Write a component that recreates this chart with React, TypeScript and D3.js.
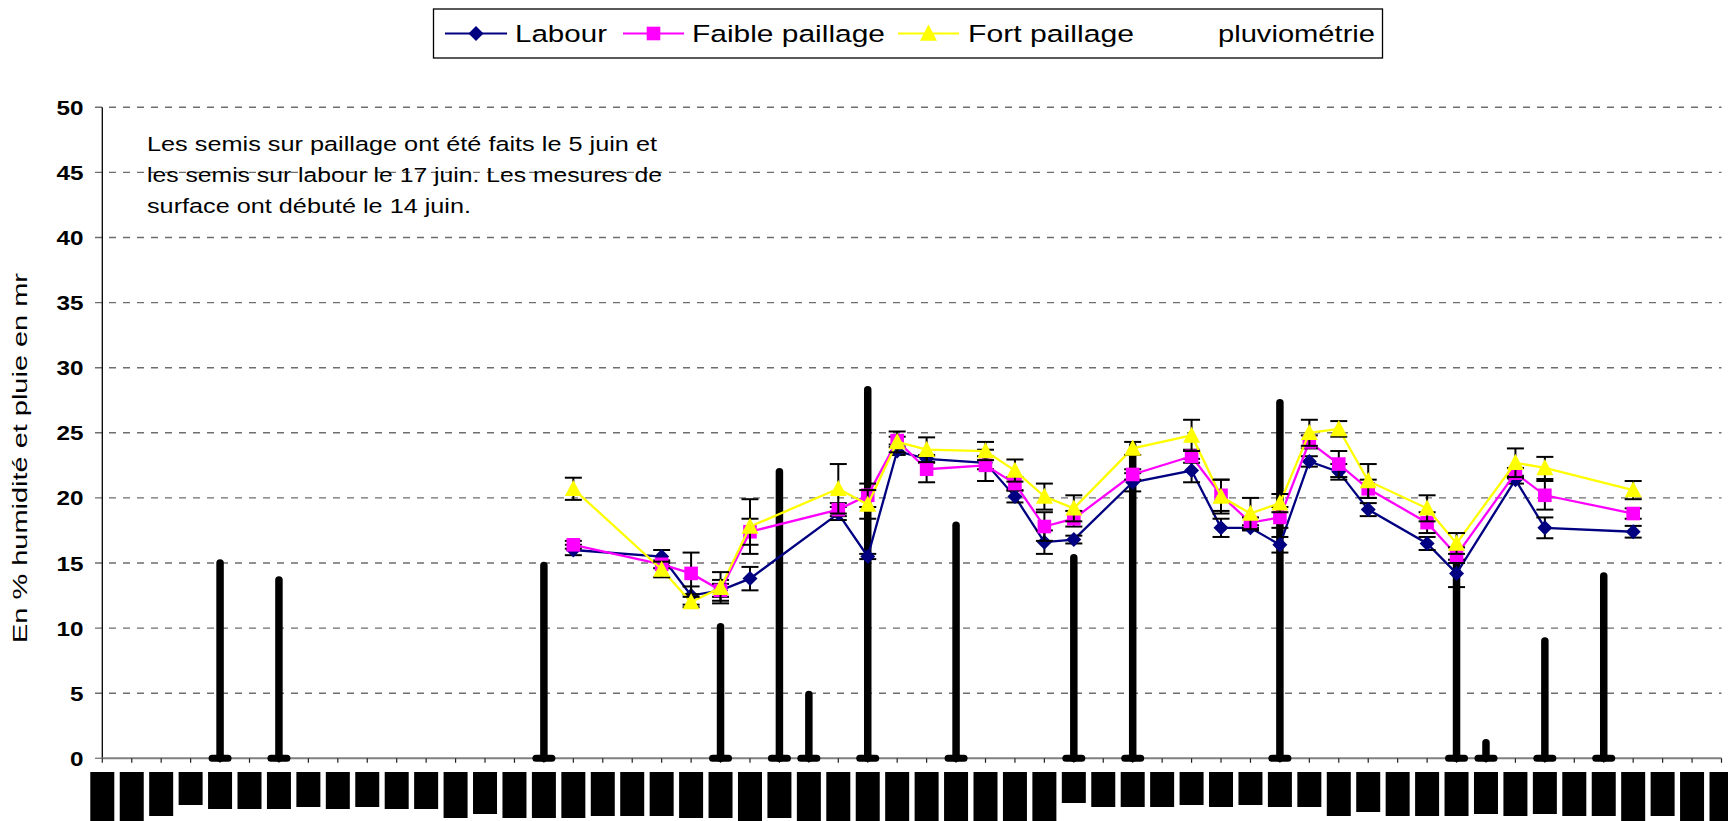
import React from "react";
import * as d3 from "d3";

// ---- data ----
const categoryCount = 56; // daily categories on the x axis (labels rendered as black blocks)
const labelBlockLengths = [
  50, 50, 44, 33, 37, 37, 37, 35, 37, 35, 37, 37, 46, 42, 46, 46, 46, 44, 44, 44,
  46, 46, 50, 46, 50, 50, 50, 50, 50, 50, 50, 50, 50, 31, 35, 35, 35, 33, 35, 33,
  35, 35, 44, 40, 44, 44, 44, 42, 44, 42, 44, 44, 50, 44, 50, 50,
];

const measureDays = [16, 19, 20, 21, 22, 25, 26, 27, 28, 30, 31, 32, 33, 35, 37, 38, 39, 40, 41, 42, 43, 45, 46, 48, 49, 52];
const labour = [16.0, 15.5, 12.5, 12.9, 13.8, 18.8, 15.5, 23.6, 23.0, 22.7, 20.1, 16.6, 16.8, 21.2, 22.1, 17.7, 17.7, 16.4, 22.8, 22.0, 19.1, 16.5, 14.2, 21.4, 17.7, 17.4];
const faible = [16.4, 14.9, 14.2, 12.9, 17.4, 19.1, 20.2, 24.4, 22.2, 22.5, 21.1, 17.8, 18.4, 21.8, 23.2, 20.2, 18.1, 18.5, 24.3, 22.6, 20.7, 18.1, 15.6, 21.9, 20.2, 18.8];
const fort = [20.7, 14.5, 12.0, 13.1, 17.8, 20.7, 19.5, 24.3, 23.7, 23.6, 22.1, 20.1, 19.2, 23.8, 24.8, 20.1, 18.8, 19.6, 25.0, 25.3, 21.3, 19.2, 16.5, 22.7, 22.3, 20.6];
const labourErr = [0.4, 0.5, 0.7, 0.8, 0.9, 0.5, 0.2, 0.3, 0.3, 0.5, 0.45, 0.9, 0.3, 0.7, 0.9, 0.7, 0.2, 0.6, 0.4, 0.6, 0.5, 0.5, 1.05, 0.3, 0.8, 0.45];
const faibleErr = [0.3, 0.3, 1.6, 0.5, 1.0, 0.5, 0.9, 0.3, 1.0, 1.2, 0.5, 1.1, 0.6, 0.4, 0.5, 1.2, 0.4, 0.8, 0.5, 1.0, 0.7, 0.8, 0.6, 0.4, 1.1, 0.4];
const fortErr = [0.85, 0.6, 0.4, 1.2, 2.1, 1.9, 1.1, 0.8, 0.95, 0.7, 0.85, 1.0, 1.0, 0.5, 1.2, 1.3, 1.2, 0.7, 1.0, 0.6, 1.3, 1.0, 0.8, 1.1, 0.85, 0.7];

const rainDays = [4, 6, 15, 21, 23, 24, 26, 29, 33, 35, 40, 46, 47, 49, 51];
const rain = [15.0, 13.7, 14.8, 10.1, 22.0, 4.9, 28.3, 17.9, 15.4, 24.0, 27.3, 15.0, 1.2, 9.0, 14.0];

const yTicks = [0, 5, 10, 15, 20, 25, 30, 35, 40, 45, 50];
const legendLabels = ["Labour", "Faible paillage", "Fort paillage", "pluviométrie"];
const yTitle = "En % humidité et pluie en mr";
const noteLines = [
  "Les semis sur paillage ont été faits le 5 juin et",
  "les semis sur labour le 17 juin. Les mesures de",
  "surface ont débuté le 14 juin.",
];

// ---- layout ----
const W = 1728;
const H = 821;
const left = 102.3;
const right = 1721.5;
const top = 107.3;
const bottom = 758.3;
const FONT = "'Liberation Sans', Arial, sans-serif";

const x = d3.scalePoint<number>().domain(d3.range(categoryCount)).range([left, right]);
const y = d3.scaleLinear().domain([0, 50]).range([bottom, top]);

const NAVY = "#000080";
const MAGENTA = "#FF00FF";
const YELLOW = "#FFFF00";

function diamond(cx: number, cy: number, r: number) {
  return `M${cx},${cy - r}L${cx + r},${cy}L${cx},${cy + r}L${cx - r},${cy}Z`;
}
function square(cx: number, cy: number, r: number) {
  return `M${cx - r},${cy - r}H${cx + r}V${cy + r}H${cx - r}Z`;
}
function triangle(cx: number, cy: number, r: number) {
  const h = r * 1.9;
  return `M${cx},${cy - h * 0.55}L${cx + r},${cy + h * 0.45}L${cx - r},${cy + h * 0.45}Z`;
}

const series = [
  { name: legendLabels[0], values: labour, err: labourErr, color: NAVY, marker: diamond, r: 7.5 },
  { name: legendLabels[1], values: faible, err: faibleErr, color: MAGENTA, marker: square, r: 6.8 },
  { name: legendLabels[2], values: fort, err: fortErr, color: YELLOW, marker: triangle, r: 8.5 },
];

export default function App() {
  React.useEffect(() => {
    document.body.style.margin = "0";
    document.body.style.overflow = "hidden";
  }, []);

  const line = d3
    .line<number>()
    .x((_, i) => x(measureDays[i]) as number)
    .y((d) => y(d));

  return (
    <svg
      width={W}
      height={H}
      viewBox={`0 0 ${W} ${H}`}
      style={{ position: "absolute", left: 0, top: 0, display: "block", background: "#fff" }}
      fontFamily={FONT}
    >
      {/* gridlines */}
      {yTicks
        .filter((t) => t > 0)
        .map((t) => (
          <line
            key={"g" + t}
            x1={95}
            x2={right}
            y1={y(t)}
            y2={y(t)}
            stroke="#6e6e6e"
            strokeWidth={1.4}
            strokeDasharray="7 7"
          />
        ))}
      {/* y tick labels */}
      {yTicks.map((t) => (
        <text
          key={"yl" + t}
          x={83.5}
          y={y(t) + 7.5}
          textAnchor="end"
          fontSize={21}
          fontWeight="bold"
          textLength={String(t).length === 2 ? 27 : 13.5}
          lengthAdjust="spacingAndGlyphs"
          fill="#000"
        >
          {t}
        </text>
      ))}
      {/* y axis */}
      <line x1={left} x2={left} y1={top} y2={bottom} stroke="#000" strokeWidth={1.3} />
      <line x1={95} x2={left} y1={bottom} y2={bottom} stroke="#808080" strokeWidth={1.4} />
      {/* x axis */}
      <line x1={left} x2={right} y1={bottom} y2={bottom} stroke="#808080" strokeWidth={2} />
      {d3.range(categoryCount).map((i) => (
        <line key={"xt" + i} x1={x(i)} x2={x(i)} y1={bottom} y2={bottom + 4.5} stroke="#222" strokeWidth={1.2} />
      ))}
      {/* category labels (rendered as black blocks in the reference) */}
      {d3.range(categoryCount).map((i) => (
        <rect key={"lb" + i} x={(x(i) as number) - 12} y={772} width={24} height={labelBlockLengths[i]} fill="#000" />
      ))}

      {/* rainfall */}
      {rainDays.map((d, i) => (
        <g key={"r" + d}>
          <line
            x1={x(d)}
            x2={x(d)}
            y1={y(0)}
            y2={y(rain[i])}
            stroke="#000"
            strokeWidth={7.5}
            strokeLinecap="round"
          />
          <rect x={(x(d) as number) - 11.5} y={y(0) - 3.5} width={23} height={7} rx={3.5} fill="#000" />
        </g>
      ))}

      {/* annotation */}
      {noteLines.map((t, i) => (
        <text
          key={"n" + i}
          x={147}
          y={151 + i * 31}
          fontSize={20.5}
          textLength={[510, 515, 324][i]}
          lengthAdjust="spacingAndGlyphs"
          fill="#000"
        >
          {t}
        </text>
      ))}

      {/* series */}
      {series.map((s) => (
        <g key={s.name}>
          <path d={line(s.values) || ""} fill="none" stroke={s.color} strokeWidth={2.3} />
          {s.values.map((v, i) => {
            const cx = x(measureDays[i]) as number;
            const e = s.err[i];
            return (
              <g key={i} stroke="#000" strokeWidth={2}>
                <line x1={cx} x2={cx} y1={y(v - e)} y2={y(v + e)} />
                <line x1={cx - 8.5} x2={cx + 8.5} y1={y(v + e)} y2={y(v + e)} />
                <line x1={cx - 8.5} x2={cx + 8.5} y1={y(v - e)} y2={y(v - e)} />
              </g>
            );
          })}
          {s.values.map((v, i) => (
            <path key={"m" + i} d={s.marker(x(measureDays[i]) as number, y(v), s.r)} fill={s.color} stroke="none" />
          ))}
        </g>
      ))}

      {/* y title */}
      <text
        transform={`translate(27,458) rotate(-90)`}
        textAnchor="middle"
        fontSize={21}
        textLength={370}
        lengthAdjust="spacingAndGlyphs"
        fill="#000"
      >
        {yTitle}
      </text>

      {/* legend */}
      <rect x={433.5} y={9} width={949} height={49} fill="#fff" stroke="#000" strokeWidth={1.3} />
      {[
        { x1: 445, x2: 507, tx: 515, tl: 92 },
        { x1: 623, x2: 684, tx: 692, tl: 193 },
        { x1: 898, x2: 959, tx: 968, tl: 166 },
      ].map((L, i) => {
        const s = series[i];
        const cy = 33.5;
        return (
          <g key={"lg" + i}>
            <line x1={L.x1} x2={L.x2} y1={cy} y2={cy} stroke={s.color} strokeWidth={2.2} />
            <path d={s.marker((L.x1 + L.x2) / 2, cy, s.r)} fill={s.color} />
            <text x={L.tx} y={42} fontSize={24.5} textLength={L.tl} lengthAdjust="spacingAndGlyphs" fill="#000">
              {s.name}
            </text>
          </g>
        );
      })}
      <text x={1218} y={42} fontSize={24.5} textLength={157} lengthAdjust="spacingAndGlyphs" fill="#000">
        {legendLabels[3]}
      </text>
    </svg>
  );
}
